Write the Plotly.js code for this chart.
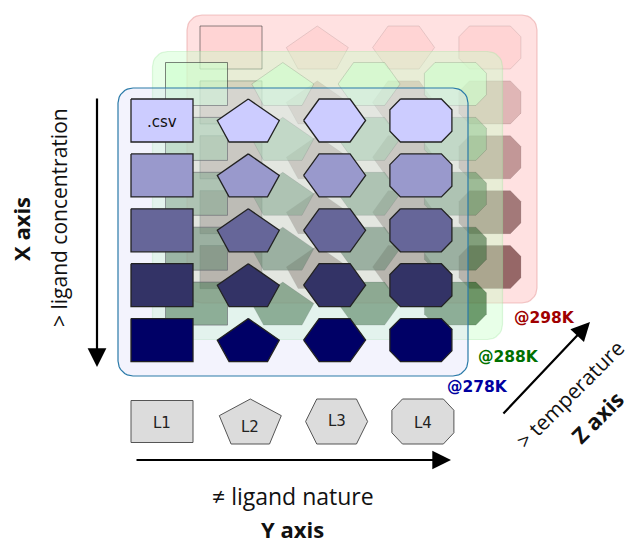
<!DOCTYPE html>
<html><head><meta charset="utf-8">
<script src="https://cdn.plot.ly/plotly-3.0.1.min.js"></script>
<style>html,body{margin:0;padding:0;background:#fff;overflow:hidden}</style>
</head><body><div id="chart" style="width:631px;height:543px"></div>
<script>
// ---- data ----
const ligands = ['L1', 'L2', 'L3', 'L4'];
const ligandShapes = ['square', 'pentagon', 'hexagon', 'octagon'];
const concentrationLevels = ['c1', 'c2', 'c3', 'c4', 'c5'];
const temperatures = ['@278K', '@288K', '@298K'];
const temperatureColors = ['#0000a0', '#007000', '#a00000'];
const blueRowColors = ['#ccccff', '#9999cc', '#666699', '#333366', '#000066'];
const greenRowColors = ['#ccffcc', '#99cc99', '#6a996a', '#3d6b3d', '#1a5a1a'];
const redRowColors = ['#ffcccc', '#cc9999', '#996666', '#663333', '#501515'];
const fileLabel = '.csv';
const axisTitles = {x: 'X axis', xSub: '> ligand concentration', y: 'Y axis', ySub: '\u2260 ligand nature', z: 'Z axis', zSub: '> temperature'};

// ---- layout constants ----
const W = 631, H = 543;
const G = {x0: 162, y0: 120.5, colStep: 86.3, rowStep: 54.9, w: 62, h: 43,
           ldx: 34.5, ldy: -36.5, pl: -44, pt: -32.5, pw: 350, ph: 288, pr: 15};
const layerStyles = [
  {rows: blueRowColors, alpha: 1, line: '#222', lw: 1.3, sqLine: '#222',
   panelFill: 'rgba(215,215,250,0.3)', panelLine: '#2a7aa8'},
  {rows: greenRowColors, alpha: 0.6, line: 'rgba(0,0,0,0.13)', lw: 1, sqLine: 'rgba(50,50,50,0.6)',
   panelFill: 'rgba(200,255,200,0.42)', panelLine: 'rgba(160,230,160,0.35)'},
  {rows: redRowColors, alpha: 0.6, line: 'rgba(0,0,0,0.10)', lw: 1, sqLine: 'rgba(50,50,50,0.55)',
   panelFill: 'rgba(255,200,200,0.55)', panelLine: 'rgba(230,150,150,0.5)'}
];

const templates = {
  square: [[-.5,-.5],[.5,-.5],[.5,.5],[-.5,.5]],
  pentagon: [[0,-.5],[.5,0],[.31,.5],[-.31,.5],[-.5,0]],
  hexagon: [[-.5,0],[-.25,-.5],[.25,-.5],[.5,0],[.25,.5],[-.25,.5]],
  octagon: [[-.33,-.5],[.33,-.5],[.5,-.25],[.5,.25],[.33,.5],[-.33,.5],[-.5,.25],[-.5,-.25]]
};
const legendTemplates = {
  square: templates.square,
  pentagon: [[0,-.5],[.5,-.13],[.31,.5],[-.31,.5],[-.5,-.13]],
  hexagon: [[-.5,0],[-.32,-.5],[.32,-.5],[.5,0],[.32,.5],[-.32,.5]],
  octagon: templates.octagon
};

function rgba(hex, a) {
  const n = parseInt(hex.slice(1), 16);
  return `rgba(${(n>>16)&255},${(n>>8)&255},${n&255},${a})`;
}
function polyTrace(cx, cy, w, h, tpl, fill, line, lw) {
  const xs = [], ys = [];
  tpl.forEach(p => { xs.push(cx + p[0]*w); ys.push(cy + p[1]*h); });
  xs.push(xs[0]); ys.push(ys[0]);
  return {type: 'scatter', mode: 'lines', x: xs, y: ys, fill: 'toself', fillcolor: fill,
          line: {color: line, width: lw}, hoverinfo: 'skip', showlegend: false};
}
function roundRectTrace(x, y, w, h, r, fill, line) {
  const xs = [], ys = [];
  const corners = [[x+w-r, y+r, -90], [x+w-r, y+h-r, 0], [x+r, y+h-r, 90], [x+r, y+r, 180]];
  corners.forEach(c => {
    for (let i = 0; i <= 8; i++) {
      const a = (c[2] + i*90/8) * Math.PI/180;
      xs.push(c[0] + r*Math.cos(a)); ys.push(c[1] + r*Math.sin(a));
    }
  });
  xs.push(xs[0]); ys.push(ys[0]);
  return {type: 'scatter', mode: 'lines', x: xs, y: ys, fill: 'toself', fillcolor: fill,
          line: {color: line, width: 1.2}, hoverinfo: 'skip', showlegend: false};
}

const traces = [];
// draw back (298K) to front (278K)
for (let k = temperatures.length - 1; k >= 0; k--) {
  const st = layerStyles[k];
  const ox = G.x0 + k*G.ldx, oy = G.y0 + k*G.ldy;
  traces.push(roundRectTrace(ox + G.pl, oy + G.pt, G.pw, G.ph, G.pr, st.panelFill, st.panelLine));
  concentrationLevels.forEach((c, i) => {
    ligands.forEach((lig, j) => {
      const shp = ligandShapes[j];
      traces.push(polyTrace(ox + j*G.colStep, oy + i*G.rowStep, G.w, G.h, templates[shp],
        rgba(st.rows[i], st.alpha), shp === 'square' ? st.sqLine : st.line, st.lw));
    });
  });
}
// ligand legend row
const legendY = 421.5;
const annotations = [];
ligands.forEach((lig, j) => {
  const cx = G.x0 + j*G.colStep + (j ? 2 : 0);
  traces.push(polyTrace(cx, legendY, 62, j === 0 ? 42 : 45, legendTemplates[ligandShapes[j]], '#dcdcdc', '#555', 1));
  annotations.push({x: cx, y: legendY + (j === 1 ? 5 : (j === 2 ? -1 : 1)), text: lig, showarrow: false,
    font: {family: 'DejaVu Sans', size: 15, color: '#222'}, xanchor: 'center', yanchor: 'middle'});
});

annotations.push({x: G.x0, y: G.y0 + 1, text: fileLabel, showarrow: false,
  font: {family: 'DejaVu Sans', size: 15, color: '#111'}});

// temperature labels
const tempPos = [[477, 387], [508, 357], [544, 318]];
temperatures.forEach((t, k) => {
  annotations.push({x: tempPos[k][0], y: tempPos[k][1], text: '<b>' + t + '</b>', showarrow: false,
    font: {family: 'DejaVu Sans', size: 15.5, color: temperatureColors[k]}});
});

// axis arrows
const arrowBase = {text: '', showarrow: true, axref: 'x', ayref: 'y', xref: 'x', yref: 'y',
  arrowhead: 2, arrowsize: 1.7, arrowwidth: 2.2, arrowcolor: '#000', standoff: 0, startstandoff: 0};
annotations.push(Object.assign({}, arrowBase, {x: 97, y: 367, ax: 97, ay: 97}));
annotations.push(Object.assign({}, arrowBase, {x: 451, y: 460, ax: 135, ay: 460}));
annotations.push(Object.assign({}, arrowBase, {x: 590, y: 322, ax: 502, ay: 415}));

const tf = {family: 'Open Sans', size: 21, color: '#111'};
const tfb = {family: 'Open Sans', size: 22, color: '#111'};
const tfl = {family: 'Open Sans', size: 23, color: '#111'};
annotations.push({x: 21, y: 229, text: '<b>' + axisTitles.x + '</b>', textangle: -90, showarrow: false, font: tfb, borderpad: 0});
annotations.push({x: 59, y: 218, text: axisTitles.xSub, textangle: -90, showarrow: false, font: tf, borderpad: 0});
annotations.push({x: 293, y: 496, text: axisTitles.ySub, showarrow: false, font: tfl, borderpad: 0});
annotations.push({x: 292, y: 529, text: '<b>' + axisTitles.y + '</b>', showarrow: false, font: tfb, borderpad: 0});
annotations.push({x: 570, y: 394, text: axisTitles.zSub, textangle: -45, showarrow: false, font: tf, borderpad: 0});
annotations.push({x: 597, y: 417, text: '<b>' + axisTitles.z + '</b>', textangle: -45, showarrow: false, font: tfb, borderpad: 0});

const layout = {
  width: W, height: H, autosize: false,
  margin: {l: 0, r: 0, t: 0, b: 0, pad: 0},
  paper_bgcolor: '#fff', plot_bgcolor: '#fff',
  xaxis: {range: [0, W], visible: false, fixedrange: true},
  yaxis: {range: [H, 0], visible: false, fixedrange: true},
  showlegend: false,
  annotations: annotations
};
Plotly.newPlot('chart', traces, layout, {staticPlot: true, displayModeBar: false});
</script></body></html>
